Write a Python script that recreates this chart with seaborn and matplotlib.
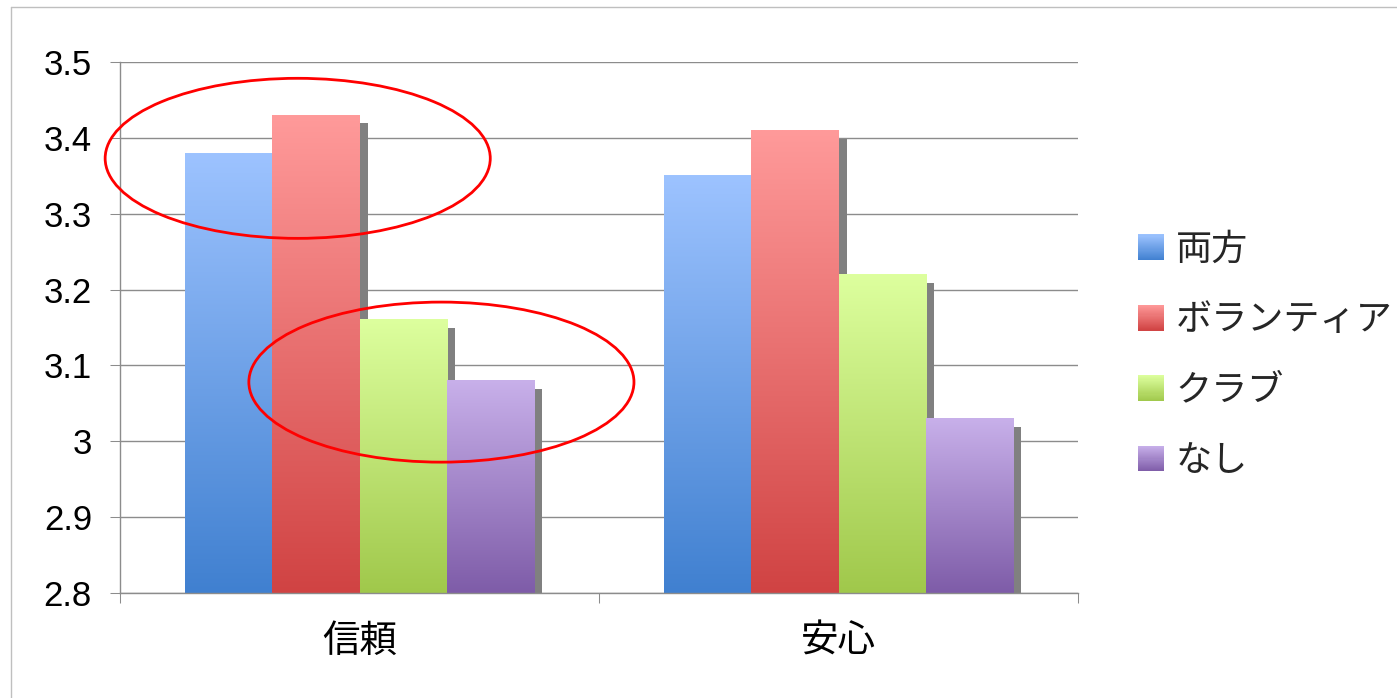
import numpy as np
import pandas as pd
import matplotlib
matplotlib.use("Agg")
import matplotlib.pyplot as plt
import seaborn as sns
from matplotlib.patches import Ellipse, Rectangle
from matplotlib.colors import LinearSegmentedColormap, to_rgb
from matplotlib.legend_handler import HandlerBase
import matplotlib.patheffects as pe
from matplotlib.lines import Line2D

categories = ["信頼", "安心"]
series = ["両方", "ボランティア", "クラブ", "なし"]
values_both = [3.38, 3.35]
values_volunteer = [3.43, 3.41]
values_club = [3.16, 3.22]
values_none = [3.08, 3.03]
y_ticks = [2.8, 2.9, 3.0, 3.1, 3.2, 3.3, 3.4, 3.5]
y_tick_labels = ["2.8", "2.9", "3", "3.1", "3.2", "3.3", "3.4", "3.5"]

top_colors = ["#9DC3FF", "#FF9A9A", "#DDFF9E", "#C8B0EA"]
bottom_colors = ["#4080D0", "#D04343", "#A0C84B", "#7E5CA8"]

sns.set_theme(style="ticks")
plt.rcParams["font.family"] = ["Liberation Sans", "Noto Sans CJK JP", "DejaVu Sans"]

df = pd.DataFrame({
    "category": categories * len(series),
    "series": np.repeat(series, len(categories)),
    "value": values_both + values_volunteer + values_club + values_none,
})

mid_colors = [tuple((np.array(to_rgb(t)) + np.array(to_rgb(b))) / 2)
              for t, b in zip(top_colors, bottom_colors)]

W, H = 1397, 698
fig = plt.figure(figsize=(W / 100, H / 100), dpi=100)
ax = fig.add_axes([120 / W, 1 - 593 / H, (1078 - 120) / W, (593 - 62) / H])

sns.barplot(data=df, x="category", y="value", hue="series", hue_order=series,
            order=categories, palette=mid_colors, width=0.727, gap=0,
            saturation=1, errorbar=None, legend=False, linewidth=0, ax=ax)

ymin, ymax = 2.8, 3.5
grad = np.linspace(0, 1, 256).reshape(-1, 1)
for i, cont in enumerate(ax.containers):
    cmap = LinearSegmentedColormap.from_list(f"g{i}", [bottom_colors[i], top_colors[i]])
    for bar in cont:
        bar.set_path_effects([pe.SimplePatchShadow(offset=(6, -6), shadow_rgbFace="#808080", alpha=1.0),
                              pe.Normal()])
        x0 = bar.get_x()
        x1 = x0 + bar.get_width()
        top = bar.get_height()
        ax.imshow(grad, extent=(x0, x1, ymin, top), origin="lower", cmap=cmap,
                  aspect="auto", zorder=1.5, interpolation="bilinear")

ax.set_xlim(-0.5, 1.5)
ax.set_ylim(ymin, ymax)
ax.set_yticks(y_ticks)
ax.set_yticklabels(y_tick_labels)
ax.set_xlabel("")
ax.set_ylabel("")
ax.yaxis.grid(True, color="#8C8C8C", linewidth=1)
ax.set_axisbelow(True)
for s in ["top", "right"]:
    ax.spines[s].set_visible(False)
for s in ["left", "bottom"]:
    ax.spines[s].set_color("#8C8C8C")
    ax.spines[s].set_linewidth(1)

ax.set_xticks([-0.5, 0.5, 1.5], minor=True)
ax.tick_params(axis="y", which="major", length=7.2, width=0.75, color="#8C8C8C",
               direction="out", pad=13, labelsize=25, labelcolor="black", left=True)
ax.tick_params(axis="x", which="major", length=0, pad=22, labelsize=27, labelcolor="black")
ax.tick_params(axis="x", which="minor", length=7.2, width=0.75, color="#8C8C8C",
               direction="out", bottom=True)

# annotation ellipses
ax.add_patch(Ellipse((-0.129, 3.373), 0.804, 0.211, fill=False, edgecolor="#FF0000",
                     linewidth=2.0, zorder=5, clip_on=False))
ax.add_patch(Ellipse((0.171, 3.078), 0.804, 0.211, fill=False, edgecolor="#FF0000",
                     linewidth=2.0, zorder=5, clip_on=False))


class GradHandler(HandlerBase):
    def __init__(self, top, bottom):
        super().__init__()
        self.top = np.array(to_rgb(top))
        self.bottom = np.array(to_rgb(bottom))

    def create_artists(self, legend, orig_handle, xdescent, ydescent, width, height, fontsize, trans):
        n = 24
        arts = []
        for k in range(n):
            f = (k + 0.5) / n
            c = self.bottom + (self.top - self.bottom) * f
            arts.append(Rectangle((-xdescent, -ydescent + k * height / n), width, height / n * 1.05,
                                  facecolor=c, edgecolor="none", transform=trans))
        return arts


handles = [Rectangle((0, 0), 1, 1) for _ in series]
hmap = {h: GradHandler(t, b) for h, t, b in zip(handles, top_colors, bottom_colors)}
fig.legend(handles, series, handler_map=hmap, loc="center left",
           bbox_to_anchor=(1138 / W, 1 - 356 / H), frameon=False, fontsize=26,
           handlelength=0.72, handleheight=0.72, handletextpad=0.32,
           labelspacing=0.98, borderpad=0, borderaxespad=0)

# outer chart border
fig.add_artist(Line2D([11 / W, 11 / W], [0, 1 - 7 / H], transform=fig.transFigure,
                      color="#BFBFBF", linewidth=1))
fig.add_artist(Line2D([11 / W, 1], [1 - 7 / H, 1 - 7 / H], transform=fig.transFigure,
                      color="#BFBFBF", linewidth=1))

fig.savefig("out.png", dpi=100, facecolor="white")
